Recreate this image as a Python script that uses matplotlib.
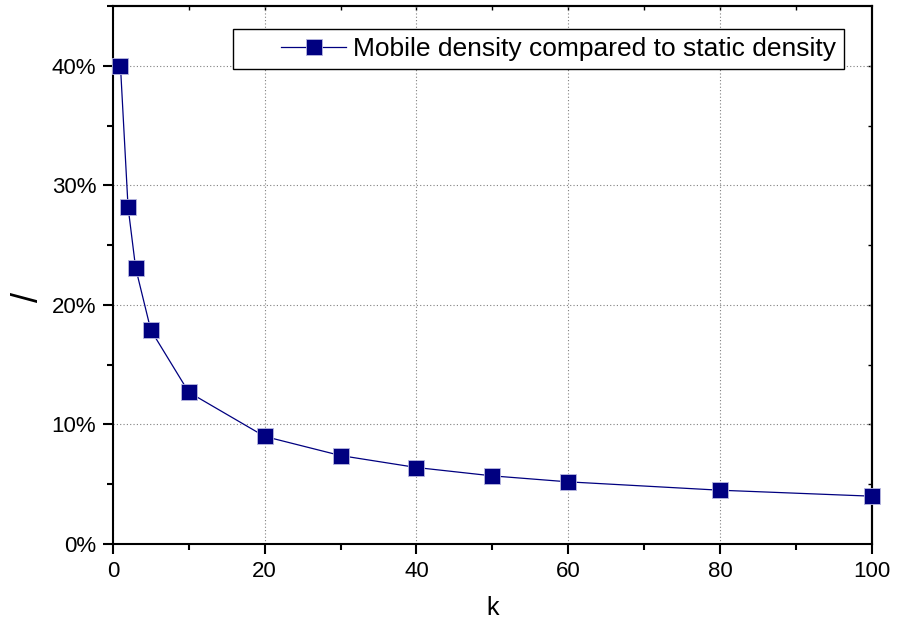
import matplotlib.pyplot as plt
from matplotlib.ticker import MultipleLocator, PercentFormatter
from matplotlib.legend_handler import HandlerLine2D

plt.rcParams['font.family'] = ['Liberation Sans', 'DejaVu Sans']

# data
k = [1, 2, 3, 5, 10, 20, 30, 40, 50, 60, 80, 100]
ratio = [0.400, 0.282, 0.231, 0.179, 0.127, 0.090, 0.074, 0.064, 0.057, 0.052, 0.045, 0.040]
series_label = 'Mobile density compared to static density'


# legend handle drawn in the right part of its box (wide left padding)
class ShiftedHandler(HandlerLine2D):
    def create_artists(self, legend, orig_handle, xdescent, ydescent, width,
                       height, fontsize, trans):
        shift = width * 0.38
        return super().create_artists(legend, orig_handle, xdescent - shift,
                                      ydescent, width - shift, height,
                                      fontsize, trans)


fig = plt.figure(figsize=(9.03, 6.21), dpi=100)
ax = fig.add_axes([0.125, 0.124, 0.8405, 0.866])

line, = ax.plot(k, ratio, color='#000080', linewidth=0.9, marker='s', markersize=11.5,
                markerfacecolor='#000080', markeredgecolor='#b8b8e0', markeredgewidth=0.6,
                label=series_label, clip_on=False, zorder=3)

ax.set_xlim(0, 100)
ax.set_ylim(0, 0.45)
ax.xaxis.set_major_locator(MultipleLocator(20))
ax.xaxis.set_minor_locator(MultipleLocator(10))
ax.yaxis.set_major_locator(MultipleLocator(0.10))
ax.yaxis.set_minor_locator(MultipleLocator(0.05))
ax.yaxis.set_major_formatter(PercentFormatter(1.0, decimals=0))

ax.grid(True, which='major', linestyle=(0, (1, 2)), color='#808080', linewidth=0.8)
ax.set_axisbelow(True)

for s in ax.spines.values():
    s.set_linewidth(1.5)

ax.tick_params(axis='both', which='major', direction='out', length=7, width=1.5,
               labelsize=16, pad=5)
ax.tick_params(axis='both', which='minor', direction='out', length=4, width=1.5)

# tiny inward ticks on the top and right spines
top = ax.secondary_xaxis('top')
top.set_xticks([10, 20, 30, 40, 50, 60, 70, 80, 90])
top.tick_params(direction='in', length=3, width=1, labeltop=False)
right = ax.secondary_yaxis('right')
right.set_yticks([0.05, 0.10, 0.15, 0.20, 0.25, 0.30, 0.35, 0.40])
right.tick_params(direction='in', length=3, width=1, labelright=False)
top.spines['top'].set_linewidth(1.5)
right.spines['right'].set_linewidth(1.5)

ax.set_xlabel('k', fontsize=18, labelpad=10)
ax.set_ylabel('/', fontsize=26)
ax.yaxis.set_label_coords(-0.088, 0.459)

leg = ax.legend(handler_map={line: ShiftedHandler()},
                loc='upper left', bbox_to_anchor=(0.158, 0.957), borderaxespad=0,
                fontsize=19, frameon=True, fancybox=False, framealpha=1,
                edgecolor='black', handlelength=4.0, handletextpad=0.27,
                borderpad=0.3)
leg.get_frame().set_linewidth(1.0)

fig.savefig('out.png', dpi=100)
